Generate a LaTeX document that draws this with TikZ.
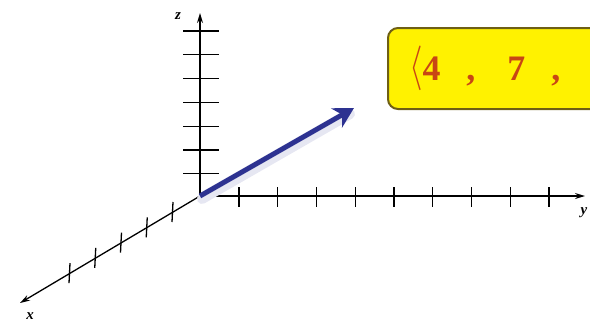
\documentclass[tikz,border=0pt]{standalone}
\usepackage{fontspec}
\newfontfamily\boxfont{Liberation Serif}
\usetikzlibrary{arrows.meta,calc}
\definecolor{vecblue}{RGB}{45,50,145}
\definecolor{boxedge}{RGB}{110,95,20}
\definecolor{boxtext}{RGB}{200,70,20}
\tikzset{
  axis/.style={line width=1.3bp, -{Stealth[length=10bp,width=6bp]}},
  tickmark/.style={line width=1.3bp},
  axlabel/.style={inner sep=0pt, font=\boxfont\itshape\bfseries\fontsize{15}{17}\selectfont},
  vec/.style={vecblue, line width=5bp, -{Stealth[length=20bp,width=22bp]}},
  pointbox/.style={draw=boxedge, line width=2bp, fill=yellow, rounded corners=10bp,
    anchor=north west, minimum height=81bp, text width=230bp, inner sep=0pt,
    font=\boxfont\bfseries\fontsize{36}{40}\selectfont, text=boxtext}
}
\begin{document}
\begin{tikzpicture}[x=1bp, y=-1bp]
\useasboundingbox (0,0) rectangle (590,325);
\coordinate (O) at (200,196);
\coordinate (zt) at (200,13);
\coordinate (yt) at (585,196);
\coordinate (xt) at (20,303);
\coordinate (vt) at (354,108);
% axes
\draw[axis] (O) -- (zt);
\draw[axis] (O) -- (yt);
\draw[axis] (O) -- (xt);
\foreach \k in {0,...,6}
  \draw[tickmark] (183,31+23.8*\k) -- (219,31+23.8*\k);
\foreach \k in {0,...,8}
  \draw[tickmark] (239+38.75*\k,187) -- (239+38.75*\k,207);
\foreach \k in {0,...,4}
  \draw[tickmark] ($(173-25.75*\k,212+15.3*\k)+(0,-10)$) -- ++(-1,20);
\node[axlabel] (zlab) at (178,16) {z};
\node[axlabel] (ylab) at (584,213) {y};
\node[axlabel] (xlab) at (30,316) {x};
% vector
\draw[vecblue!12, line width=10bp, line cap=round] ($(O)+(2,3)$) -- ($(vt)+(-4,6)$);
\draw[vec] (O) -- (vt);
\node[pointbox] (pt) at (387,27) {\hspace{21bp}\raisebox{1bp}{\scalebox{1.4}[1.8]{$\langle$}}4\hspace{26bp},\hspace{32bp}7\hspace{26bp},};
\end{tikzpicture}
\end{document}
